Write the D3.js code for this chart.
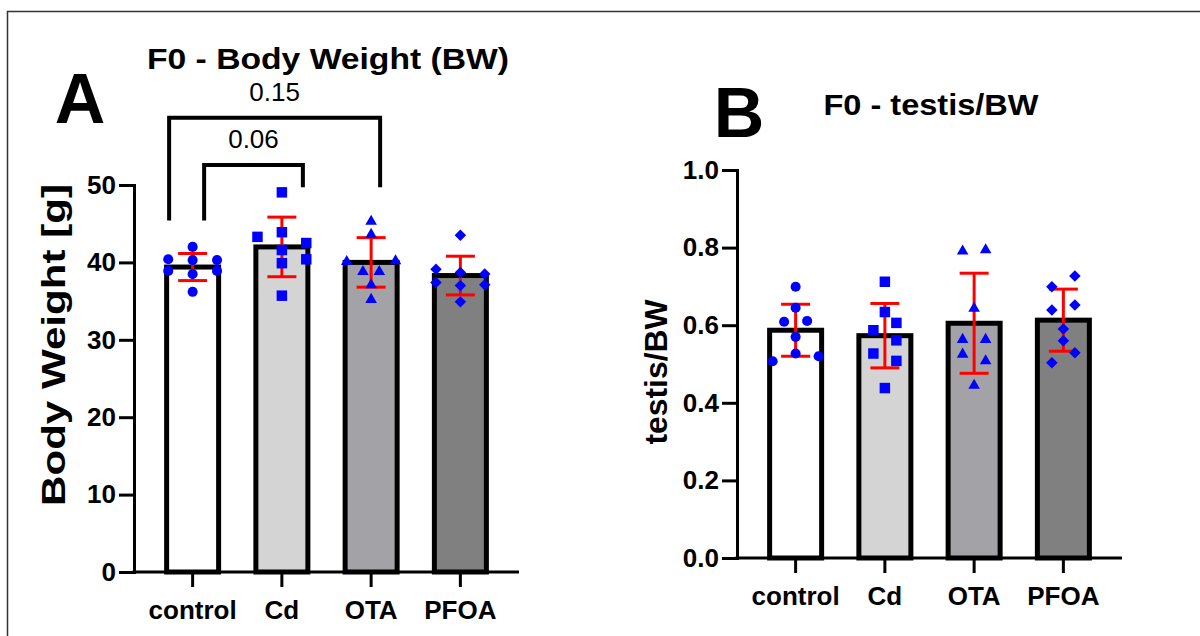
<!DOCTYPE html>
<html>
<head>
<meta charset="utf-8">
<script src="https://cdn.jsdelivr.net/npm/d3@7"></script>
<style>
  body { margin: 0; background: #fff; }
  svg text { font-family: "Liberation Sans", Arial, sans-serif; fill: #000; }
</style>
</head>
<body>
<svg id="chart" width="1200" height="636"></svg>
<script>
// F0 body weight and testis/BW, two bar panels

var groups = ["control", "Cd", "OTA", "PFOA"];

// Panel A -- body weight [g]
var bwMean = [39.4, 42.0, 40.0, 38.3];
var bwSd = [1.75, 3.85, 3.2, 2.5];
var bwPoints = [
  [42.0, 40.4, 40.3, 40.3, 38.9, 38.5, 38.9, 36.2],
  [49.05, 43.3, 43.9, 42.5, 41.6, 40.4, 39.9, 35.7],
  [45.3, 43.6, 40.1, 40.2, 38.8, 38.8, 37.1, 35.2],
  [43.5, 39.1, 38.7, 38.5, 37.4, 37.1, 37.0, 34.9]
];
// scatter column each animal landed in
var bwCols = [
  [0, -2, 0, 2, -2, 0, 2, 0],
  [0, -2, 0, 2, 0, 2, 0, 0],
  [0, 0, -2, 2, -0.67, 0.67, 0, 0],
  [0, -2, 0, 2, -2, 2, 0, 0]
];
var bwTicks = [0, 10, 20, 30, 40, 50];
var bwComparisons = [
  { from: "control", to: "OTA", p: "0.15" },
  { from: "control", to: "Cd", p: "0.06" }
];

// Panel B -- testis/BW
var tbMean = [0.587, 0.573, 0.605, 0.613];
var tbSd = [0.067, 0.083, 0.129, 0.080];
var tbPoints = [
  [0.699, 0.645, 0.609, 0.611, 0.570, 0.527, 0.507, 0.520],
  [0.712, 0.634, 0.587, 0.606, 0.561, 0.527, 0.508, 0.438],
  [0.791, 0.794, 0.643, 0.563, 0.563, 0.525, 0.508, 0.445],
  [0.727, 0.699, 0.652, 0.639, 0.590, 0.560, 0.529, 0.503]
];
var tbCols = [
  [0, 0, -1, 1, 0, 0, -2, 2],
  [0, 0, -1, 1, 1, -1, 1, 0],
  [-1, 1, 0, -1, 1, -1, 1, 0],
  [1, -1, 1, -1, 0, 0, 1, -1]
];
var tbTicks = [0, 0.2, 0.4, 0.6, 0.8, 1.0];

var barFill = { control: "#ffffff", Cd: "#d4d4d4", OTA: "#a3a2a7", PFOA: "#808080" };
var symbols = {
  control: d3.symbolCircle,
  Cd: d3.symbolSquare,
  OTA: d3.symbolTriangle,
  PFOA: d3.symbolSquare
};
var symbolSize = { control: 80, Cd: 110, OTA: 58, PFOA: 66 };

var svg = d3.select("#chart");

// frame round the figure
svg.append("path")
  .attr("d", "M7.5,636V11.5H1200")
  .attr("fill", "none")
  .attr("stroke", "#333")
  .attr("stroke-width", 1.5);

var drawPanel = function (p) {
  var g = svg.append("g");

  var x = d3.scaleBand().domain(groups)
    .range([p.left + 14, p.left + 371]);
  var y = d3.scaleLinear().domain([0, p.max]).range([p.bottom, p.top]);
  var cx = function (name) { return x(name) + x.bandwidth() / 2; };
  var barW = 52;

  // bars
  g.selectAll("rect.bar")
    .data(groups)
    .enter().append("rect")
    .attr("class", "bar")
    .attr("x", function (d) { return cx(d) - barW / 2; })
    .attr("y", function (d, i) { return y(p.mean[i]); })
    .attr("width", barW)
    .attr("height", function (d, i) { return y(0) - y(p.mean[i]); })
    .attr("fill", function (d) { return barFill[d]; })
    .attr("stroke", "#000")
    .attr("stroke-width", 5);

  // error bars, mean +/- SD
  var err = g.selectAll("g.err")
    .data(groups)
    .enter().append("g")
    .attr("class", "err")
    .attr("stroke", "#ff0000")
    .attr("stroke-width", 3);
  err.append("line")
    .attr("x1", function (d) { return cx(d); })
    .attr("x2", function (d) { return cx(d); })
    .attr("y1", function (d, i) { return y(p.mean[i] - p.sd[i]); })
    .attr("y2", function (d, i) { return y(p.mean[i] + p.sd[i]); });
  [-1, 1].forEach(function (s) {
    err.append("line")
      .attr("x1", function (d) { return cx(d) - 14.5; })
      .attr("x2", function (d) { return cx(d) + 14.5; })
      .attr("y1", function (d, i) { return y(p.mean[i] + s * p.sd[i]); })
      .attr("y2", function (d, i) { return y(p.mean[i] + s * p.sd[i]); });
  });

  // individual animals
  groups.forEach(function (name, i) {
    var pts = p.points[i].map(function (v, j) { return { v: v, c: p.cols[i][j] }; });
    g.selectAll("path.pt-" + name)
      .data(pts)
      .enter().append("path")
      .attr("class", "pt-" + name)
      .attr("d", d3.symbol().type(symbols[name]).size(symbolSize[name]))
      .attr("transform", function (d) {
        var t = "translate(" + (cx(name) + d.c * p.colStep) + "," + y(d.v) + ")";
        return name === "PFOA" ? t + " rotate(45)" : t;
      })
      .attr("fill", "#0000ff");
  });

  // y axis
  var yAxis = g.append("g")
    .attr("transform", "translate(" + p.left + ",0)")
    .call(d3.axisLeft(y).tickValues(p.ticks).tickFormat(p.fmt)
      .tickSize(15).tickSizeOuter(15).tickPadding(3));
  yAxis.select(".domain").attr("stroke-width", 3).attr("stroke-linejoin", "miter");
  yAxis.selectAll(".tick line").attr("stroke-width", 3);
  yAxis.selectAll(".tick text")
    .attr("font-size", 26).attr("font-weight", "bold")
    .attr("font-family", "Liberation Sans, Arial, sans-serif");

  // x axis
  g.append("line")
    .attr("x1", p.left - 1.5).attr("x2", p.left + 385)
    .attr("y1", y(0)).attr("y2", y(0))
    .attr("stroke", "#000").attr("stroke-width", 3);
  var xAxis = g.append("g")
    .attr("transform", "translate(0," + y(0) + ")")
    .call(d3.axisBottom(x).tickSize(15).tickSizeOuter(0).tickPadding(14));
  xAxis.select(".domain").remove();
  xAxis.selectAll(".tick line").attr("stroke-width", 3);
  xAxis.selectAll(".tick text")
    .attr("font-size", 26).attr("font-weight", "bold")
    .attr("font-family", "Liberation Sans, Arial, sans-serif");

  // titles and labels
  g.append("text")
    .attr("x", p.titleX).attr("y", p.titleY)
    .attr("text-anchor", "middle")
    .attr("font-size", 30).attr("font-weight", "bold")
    .attr("textLength", p.titleLen).attr("lengthAdjust", "spacingAndGlyphs")
    .text(p.title);
  g.append("text")
    .attr("x", p.letterX).attr("y", p.letterY)
    .attr("text-anchor", "middle")
    .attr("font-size", 70).attr("font-weight", "bold")
    .text(p.letter);
  g.append("text")
    .attr("transform", "translate(" + p.labelX + "," + p.labelY + ") rotate(-90)")
    .attr("text-anchor", "middle")
    .attr("font-size", p.labelSize).attr("font-weight", "bold")
    .attr("textLength", p.labelLen).attr("lengthAdjust", "spacingAndGlyphs")
    .text(p.label);

  return { x: x, y: y, cx: cx, g: g };
};

var panelA = drawPanel({
  left: 134, bottom: 572, top: 185, max: 50,
  ticks: bwTicks, fmt: d3.format("d"),
  mean: bwMean, sd: bwSd, points: bwPoints, cols: bwCols, colStep: 12.2,
  title: "F0 - Body Weight (BW)", titleX: 328, titleY: 69, titleLen: 362,
  letter: "A", letterX: 80, letterY: 123,
  label: "Body Weight [g]", labelX: 65, labelY: 345, labelSize: 34, labelLen: 322
});

var panelB = drawPanel({
  left: 737, bottom: 558, top: 170, max: 1.0,
  ticks: tbTicks, fmt: d3.format(".1f"),
  mean: tbMean, sd: tbSd, points: tbPoints, cols: tbCols, colStep: 11.5,
  title: "F0 - testis/BW", titleX: 931, titleY: 115, titleLen: 215,
  letter: "B", letterX: 739, letterY: 137,
  label: "testis/BW", labelX: 667, labelY: 372, labelSize: 32, labelLen: 145
});

// significance brackets on panel A
var legs = [
  { left: -23.5, right: 9, top: 58.7, leftEnd: 45.4, rightEnd: 49.7 },
  { left: 11.5, right: 21, top: 52.6, leftEnd: 45.4, rightEnd: 49.7 }
];
bwComparisons.forEach(function (c, i) {
  var x0 = panelA.cx(c.from) + legs[i].left;
  var x1 = panelA.cx(c.to) + legs[i].right;
  var y = panelA.y;
  panelA.g.append("path")
    .attr("d", "M" + x0 + "," + y(legs[i].leftEnd) + "V" + y(legs[i].top) +
      "H" + x1 + "V" + y(legs[i].rightEnd))
    .attr("fill", "none")
    .attr("stroke", "#000")
    .attr("stroke-width", 4)
    .attr("stroke-linejoin", "miter");
  panelA.g.append("text")
    .attr("x", (x0 + x1) / 2)
    .attr("y", y(legs[i].top) - 17)
    .attr("text-anchor", "middle")
    .attr("font-size", 26)
    .text(c.p);
});
</script>
</body>
</html>
